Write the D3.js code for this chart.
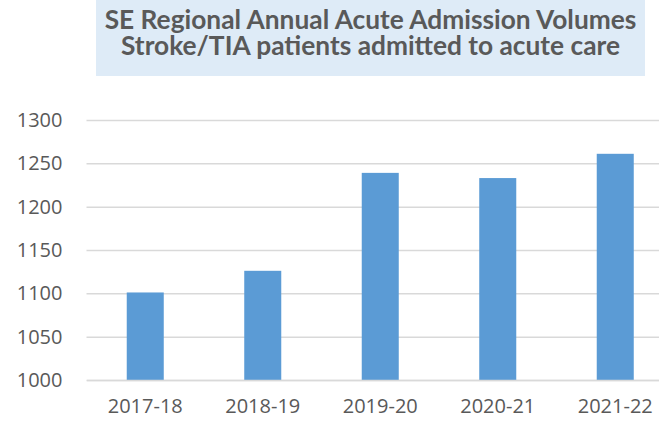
<!DOCTYPE html>
<html>
<head>
<meta charset="utf-8">
<script src="https://cdn.jsdelivr.net/npm/d3@7"></script>
<style>
  body { margin: 0; background: #fff; }
  svg { display: block; font-family: "Open Sans", sans-serif; }
</style>
</head>
<body>
<div class="chart"></div>
<script>
// data
var years = ["2017-18", "2018-19", "2019-20", "2020-21", "2021-22"];
var admissions = [1101, 1126, 1239, 1233, 1261];
var yTicks = [1000, 1050, 1100, 1150, 1200, 1250, 1300];
var titleLines = ["SE Regional Annual Acute Admission Volumes", "Stroke/TIA patients admitted to acute care"];

var W = 659, H = 424;
var margin = {top: 120, left: 86.5, bottom: 44},
    width = 587.5,
    height = 260;

var svg = d3.select(".chart").append("svg")
    .attr("width", W)
    .attr("height", H);

// title box
svg.append("rect")
    .attr("x", 96).attr("y", 0)
    .attr("width", 549).attr("height", 76)
    .attr("fill", "#deebf7");

// one text, two lines
var title = svg.append("text")
    .attr("class", "title")
    .attr("y", 29)
    .attr("text-anchor", "middle")
    .attr("font-family", "Lato, sans-serif")
    .attr("font-size", 22)
    .attr("font-weight", "bold")
    .attr("fill", "#595959");
title.selectAll("tspan")
    .data(titleLines)
    .enter().append("tspan")
    .attr("x", 370.5)
    .attr("dy", function(d, i) { return i ? 26 : 0; })
    .text(function(d) { return d; });

// size the title so the first line is about 532px wide like the picture
var len = title.select("tspan").node().getComputedTextLength();
title.attr("font-size", 22 * 532 / len);

var g = svg.append("g")
    .attr("transform", "translate(" + margin.left + "," + margin.top + ")");

var x = d3.scaleBand()
    .domain(years)
    .range([0, width])
    .paddingInner(0.685)
    .paddingOuter(0.3425);

var y = d3.scaleLinear()
    .domain([1000, 1300])
    .range([height, 0]);

// gridlines + y labels
var yAxis = g.append("g")
    .call(d3.axisLeft(y).tickValues(yTicks).tickSize(-width).tickFormat(d3.format("d")).tickPadding(24));
yAxis.select(".domain").remove();
yAxis.selectAll("line").attr("stroke", "#d9d9d9").attr("stroke-width", 1.5);
yAxis.selectAll("text")
    .attr("font-size", 20)
    .attr("fill", "#595959")
    .attr("font-family", "Open Sans, sans-serif");

// bars
g.selectAll(".bar")
    .data(admissions)
    .enter().append("rect")
    .attr("class", "bar")
    .attr("x", function(d, i) { return x(years[i]); })
    .attr("width", x.bandwidth())
    .attr("y", function(d) { return y(d); })
    .attr("height", function(d) { return height - y(d); })
    .attr("fill", "#5b9bd5");

// x axis
var xAxis = g.append("g")
    .attr("transform", "translate(0," + height + ")")
    .call(d3.axisBottom(x).tickSize(0).tickPadding(19));
xAxis.select(".domain").attr("stroke", "#d9d9d9").attr("stroke-width", 1.5);
xAxis.selectAll("text")
    .attr("font-size", 20)
    .attr("fill", "#595959")
    .attr("font-family", "Open Sans, sans-serif");
</script>
</body>
</html>
